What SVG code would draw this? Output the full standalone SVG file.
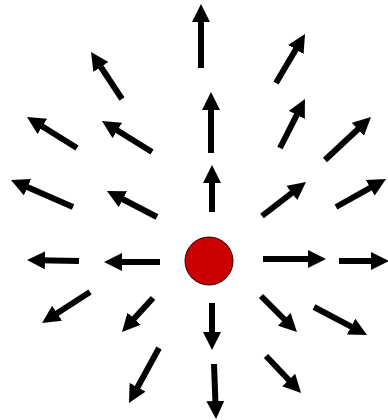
<svg xmlns="http://www.w3.org/2000/svg" width="388" height="420" viewBox="0 0 388 420">
<style>
.a{stroke:#000;stroke-width:6;fill:none;marker-end:url(#h)}
</style>
<defs>
<marker id="h" markerUnits="userSpaceOnUse" markerWidth="18" markerHeight="18" viewBox="0 0 18 18" refX="6" refY="9" orient="auto"><path d="M0,0 L18,9 L0,18 z" fill="#000"/></marker>
</defs>
<rect width="388" height="420" fill="#fff"/>
<g id="connectors">
<line class="a" x1="201" y1="68" x2="201" y2="16"/>
<line class="a" x1="276" y1="83" x2="298.9" y2="44.3"/>
<line class="a" x1="211" y1="153" x2="211" y2="104"/>
<line class="a" x1="280" y1="148" x2="299.5" y2="109.7"/>
<line class="a" x1="325" y1="160" x2="362.2" y2="125.2"/>
<line class="a" x1="212" y1="212" x2="212" y2="177"/>
<line class="a" x1="262" y1="216" x2="296.5" y2="189.3"/>
<line class="a" x1="336" y1="207" x2="375.5" y2="184.9"/>
<line class="a" x1="263" y1="259" x2="314" y2="259"/>
<line class="a" x1="339" y1="261" x2="377" y2="261"/>
<line class="a" x1="212" y1="303" x2="212" y2="338"/>
<line class="a" x1="214" y1="364" x2="215.6" y2="407"/>
<line class="a" x1="261" y1="296" x2="288.5" y2="323.5"/>
<line class="a" x1="314" y1="307" x2="356.4" y2="329.4"/>
<line class="a" x1="266" y1="356" x2="292.8" y2="384.3"/>
<line class="a" x1="160" y1="262" x2="116" y2="262"/>
<line class="a" x1="79" y1="261" x2="39" y2="260.2"/>
<line class="a" x1="90" y1="292" x2="52.1" y2="316.5"/>
<line class="a" x1="153" y1="298" x2="130.1" y2="323.1"/>
<line class="a" x1="159" y1="348" x2="134.7" y2="392.5"/>
<line class="a" x1="122" y1="99" x2="97.6" y2="62"/>
<line class="a" x1="77" y1="148" x2="37.2" y2="123.3"/>
<line class="a" x1="152" y1="152" x2="112.2" y2="127.3"/>
<line class="a" x1="73" y1="207" x2="22" y2="184.8"/>
<line class="a" x1="157" y1="217" x2="117.6" y2="196.5"/>
</g>
<g id="charge">
<circle cx="209" cy="261" r="24" fill="#cc0000" stroke="#200" stroke-width="1"/>
</g>
</svg>
